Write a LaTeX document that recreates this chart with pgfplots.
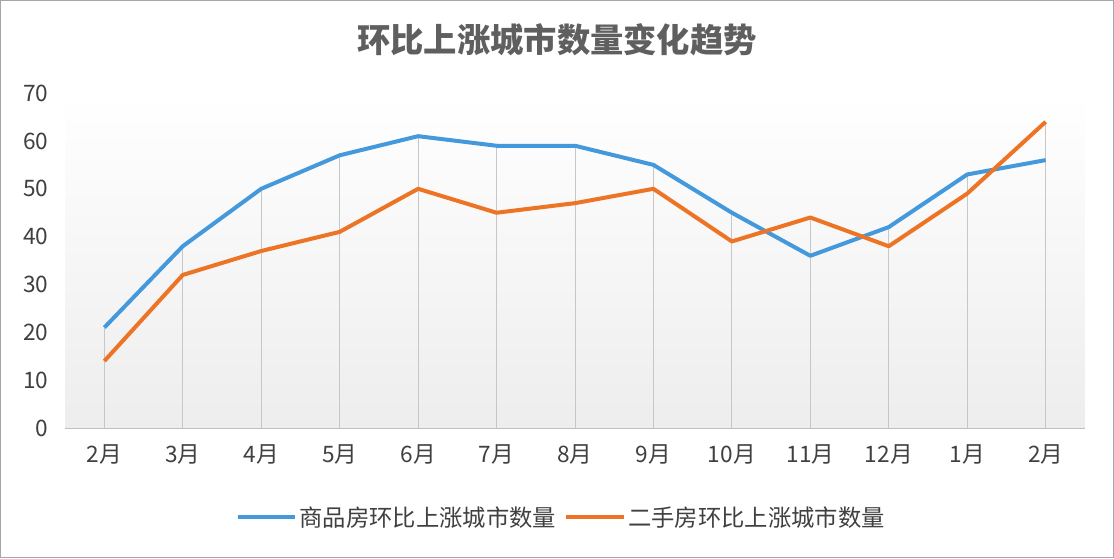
\documentclass[border=0pt]{standalone}
\usepackage{fontspec}
\setmainfont{Noto Sans CJK SC}
\usepackage{pgfplots}
\pgfplotsset{compat=1.18}
\definecolor{cblue}{HTML}{4399DC}
\definecolor{corange}{HTML}{EC7424}
\definecolor{txt}{HTML}{404040}
\definecolor{ttl}{HTML}{5F5F5F}
\begin{document}
\begin{tikzpicture}
\fill[white] (0pt,0pt) rectangle (835.5pt,418.5pt);
\node[text=ttl,font=\fontsize{25}{30}\selectfont\bfseries] at (417.75pt,388.5pt) {环比上涨城市数量变化趋势};
\begin{axis}[
  at={(48.75pt,97.5pt)}, anchor=south west,
  scale only axis, width=765pt, height=251.25pt,
  xmin=-0.5, xmax=12.5, ymin=0, ymax=70,
  axis background/.style={top color=white, bottom color=black!7},
  axis x line*=bottom,
  axis y line*=left,
  y axis line style={draw=none},
  x axis line style={draw=black!25, line width=0.8pt, -},
  xtick={0,...,12},
  xticklabels={2月,3月,4月,5月,6月,7月,8月,9月,10月,11月,12月,1月,2月},
  ytick={0,10,...,70},
  major tick length=0pt,
  tick style={draw=none},
  /pgf/number format/assume math mode=true,
  ticklabel style={font=\fontsize{17}{20}\selectfont, text=txt},
  xticklabel style={yshift=-9pt},
  yticklabel style={xshift=-9pt},
  legend columns=2,
  legend style={at={(0.4868,-0.266)}, anchor=center, draw=none, fill=none,
    font=\fontsize{17.5}{20}\selectfont, text=txt,
    /tikz/every even column/.append style={column sep=4pt}},
  legend image code/.code={\draw[#1, line width=3pt] (0,0) -- (43pt,0);},
  clip=false,
]
\addplot[ycomb, draw=black!22, line width=0.6pt, mark=none, forget plot]
  coordinates {(0,21)(1,38)(2,50)(3,57)(4,61)(5,59)(6,59)(7,55)(8,45)(9,44)(10,42)(11,53)(12,64)};
\addplot[cblue, line width=3pt, mark=none, line join=round]
  coordinates {(0,21)(1,38)(2,50)(3,57)(4,61)(5,59)(6,59)(7,55)(8,45)(9,36)(10,42)(11,53)(12,56)};
\addlegendentry{商品房环比上涨城市数量}
\addplot[corange, line width=3pt, mark=none, line join=round]
  coordinates {(0,14)(1,32)(2,37)(3,41)(4,50)(5,45)(6,47)(7,50)(8,39)(9,44)(10,38)(11,49)(12,64)};
\addlegendentry{二手房环比上涨城市数量}
\end{axis}
\draw[black!35, line width=1pt] (0.4pt,0.4pt) rectangle (835.1pt,418.1pt);
\end{tikzpicture}
\end{document}
